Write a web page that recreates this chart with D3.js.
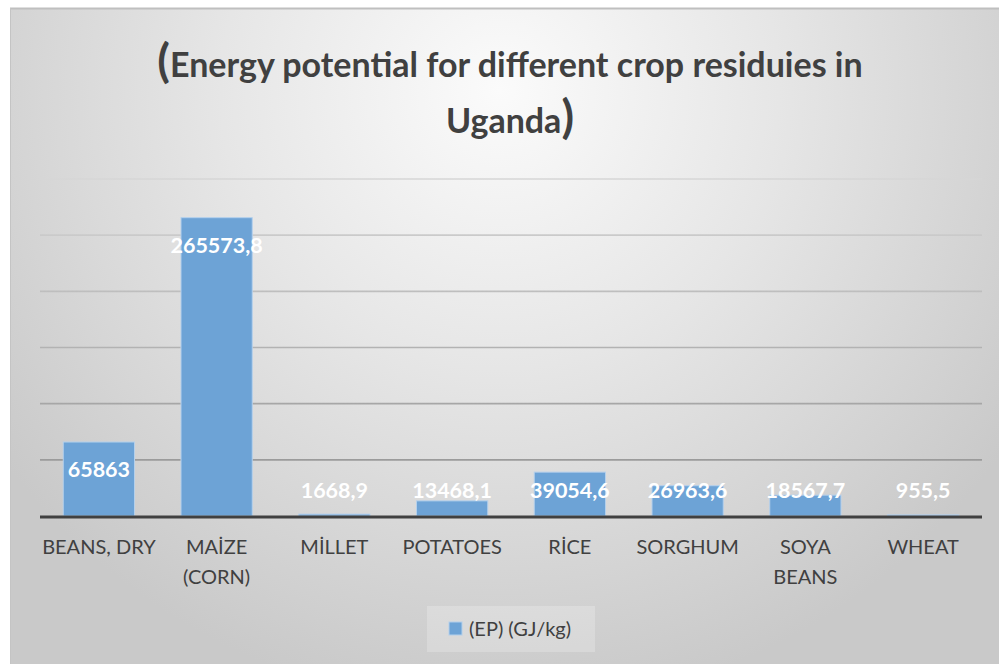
<!DOCTYPE html>
<html>
<head>
<meta charset="utf-8">
<script src="https://cdn.jsdelivr.net/npm/d3@7"></script>
<style>
  html, body { margin: 0; padding: 0; background: #fff; }
  svg { display: block; font-family: Lato, "Open Sans", sans-serif; }
</style>
</head>
<body>
<svg width="999" height="664"></svg>
<script>
// chart data
var categories = ['BEANS, DRY', 'MAİZE (CORN)', 'MİLLET', 'POTATOES', 'RİCE', 'SORGHUM', 'SOYA BEANS', 'WHEAT'];
var energy = [65863, 265573.8, 1668.9, 13468.1, 39054.6, 26963.6, 18567.7, 955.5];
var yTicks = [0, 50000, 100000, 150000, 200000, 250000, 300000];
var titleText = 'Energy potential for different crop residuies in Uganda';
var seriesName = '(EP) (GJ/kg)';

var data = categories.map(function (c, i) {
	return { name: c, value: energy[i] };
});

var svg = d3.select('svg');
var width = 999;
var height = 664;

var plot = { left: 40, right: 982, top: 179, bottom: 516 };

// comma decimal, like the original sheet
var locale = d3.formatLocale({ decimal: ',', thousands: '', grouping: [3], currency: ['', ''] });
var fmt = locale.format('.1~f');

var defs = svg.append('defs');

var bg = defs.append('radialGradient')
	.attr('id', 'bg')
	.attr('gradientUnits', 'userSpaceOnUse')
	.attr('cx', 500).attr('cy', 90).attr('r', 620);
bg.append('stop').attr('offset', 0).attr('stop-color', '#fbfbfb');
bg.append('stop').attr('offset', 0.45).attr('stop-color', '#e6e6e6');
bg.append('stop').attr('offset', 1).attr('stop-color', '#c9c9c9');

var gridGrad = defs.append('linearGradient')
	.attr('id', 'grid')
	.attr('gradientUnits', 'userSpaceOnUse')
	.attr('x1', 0).attr('y1', plot.top).attr('x2', 0).attr('y2', plot.bottom);
gridGrad.append('stop').attr('offset', 0).attr('stop-color', '#d6d6d6');
gridGrad.append('stop').attr('offset', 1).attr('stop-color', '#8f8f8f');

// chart area
svg.append('rect')
	.attr('x', 10).attr('y', 8)
	.attr('width', width - 10).attr('height', height - 8)
	.attr('fill', 'url(#bg)');

svg.append('line')
	.attr('x1', 10).attr('x2', width)
	.attr('y1', 8.5).attr('y2', 8.5)
	.attr('stroke', '#bfbfbf')
	.attr('stroke-width', 2);

svg.append('line')
	.attr('x1', 10.5).attr('x2', 10.5)
	.attr('y1', 8).attr('y2', height)
	.attr('stroke', '#c4c4c4')
	.attr('stroke-width', 1);

// title
var title = svg.append('text')
	.attr('text-anchor', 'middle')
	.attr('fill', '#404040')
	.attr('font-weight', 'bold')
	.attr('font-size', 34);

var words = titleText.split(' ');
var line1 = words.slice(0, words.length - 1).join(' ');
var line2 = words[words.length - 1];

var t1 = title.append('tspan').attr('x', 510).attr('y', 77);
t1.append('tspan').attr('font-size', 46).text('(');
t1.append('tspan').text(line1);

var t2 = title.append('tspan').attr('x', 510).attr('y', 133);
t2.append('tspan').text(line2);
t2.append('tspan').attr('font-size', 46).text(')');

// scales
var x = d3.scaleBand()
	.domain(categories)
	.range([plot.left, plot.right])
	.paddingInner(0.395)
	.paddingOuter(0.1975);

var y = d3.scaleLinear()
	.domain([0, d3.max(yTicks)])
	.range([plot.bottom, plot.top]);

// gridlines
svg.append('g')
	.selectAll('line')
	.data(yTicks.slice(1))
	.enter()
	.append('line')
	.attr('x1', plot.left).attr('x2', plot.right)
	.attr('y1', function (d) { return y(d); })
	.attr('y2', function (d) { return y(d); })
	.attr('stroke', 'url(#grid)')
	.attr('stroke-width', 1.6);

// bars
svg.append('g')
	.selectAll('rect')
	.data(data)
	.enter()
	.append('rect')
	.attr('x', function (d) { return x(d.name); })
	.attr('y', function (d) { return y(d.value); })
	.attr('width', x.bandwidth())
	.attr('height', function (d) { return y(0) - y(d.value); })
	.attr('fill', '#6da3d6')
	.attr('stroke', '#b4d0ec')
	.attr('stroke-width', 1);

// x axis line
svg.append('line')
	.attr('x1', plot.left).attr('x2', plot.right)
	.attr('y1', plot.bottom + 1).attr('y2', plot.bottom + 1)
	.attr('stroke', '#404040')
	.attr('stroke-width', 3);

// value labels (inside end, kept above the axis)
svg.append('g')
	.selectAll('text')
	.data(data)
	.enter()
	.append('text')
	.attr('x', function (d) { return x(d.name) + x.bandwidth() / 2; })
	.attr('y', function (d) { return Math.min(y(d.value) + 35, plot.bottom - 18); })
	.attr('text-anchor', 'middle')
	.attr('fill', '#ffffff')
	.attr('font-weight', 'bold')
	.attr('font-size', 21.5)
	.text(function (d) { return fmt(d.value); });

// category labels
var xAxis = d3.axisBottom(x).tickSize(0).tickPadding(0);
var gx = svg.append('g')
	.attr('transform', 'translate(0,' + plot.bottom + ')')
	.call(xAxis);
gx.select('.domain').remove();
gx.selectAll('text').remove();

gx.selectAll('.tick').each(function (name) {
	var tick = d3.select(this);
	var text = tick.append('text')
		.attr('text-anchor', 'middle')
		.attr('fill', '#404040')
		.attr('font-size', 20)
		.attr('font-family', 'Lato, "Open Sans", sans-serif');
	var maxW = x.step() - 1;
	var parts = name.split(' ');
	var lines = [];
	var cur = parts[0];
	for (var i = 1; i < parts.length; i++) {
		var test = cur + ' ' + parts[i];
		var probe = text.text(test);
		if (probe.node().getComputedTextLength() > maxW || parts[i].charAt(0) === '(' || name === 'SOYA BEANS') {
			lines.push(cur);
			cur = parts[i];
		} else {
			cur = test;
		}
	}
	lines.push(cur);
	text.text(null);
	lines.forEach(function (l, i) {
		text.append('tspan').attr('x', 0).attr('y', 38 + i * 30).text(l);
	});
});

// legend
var legend = svg.append('g').attr('transform', 'translate(427,606)');
legend.append('rect')
	.attr('width', 168).attr('height', 46)
	.attr('fill', '#ffffff')
	.attr('fill-opacity', 0.22);
legend.append('rect')
	.attr('x', 22).attr('y', 16)
	.attr('width', 13).attr('height', 13)
	.attr('fill', '#6da3d6')
	.attr('stroke', '#b4d0ec');
legend.append('text')
	.attr('x', 42).attr('y', 30)
	.attr('fill', '#404040')
	.attr('font-size', 20)
	.text(seriesName);
</script>
</body>
</html>
